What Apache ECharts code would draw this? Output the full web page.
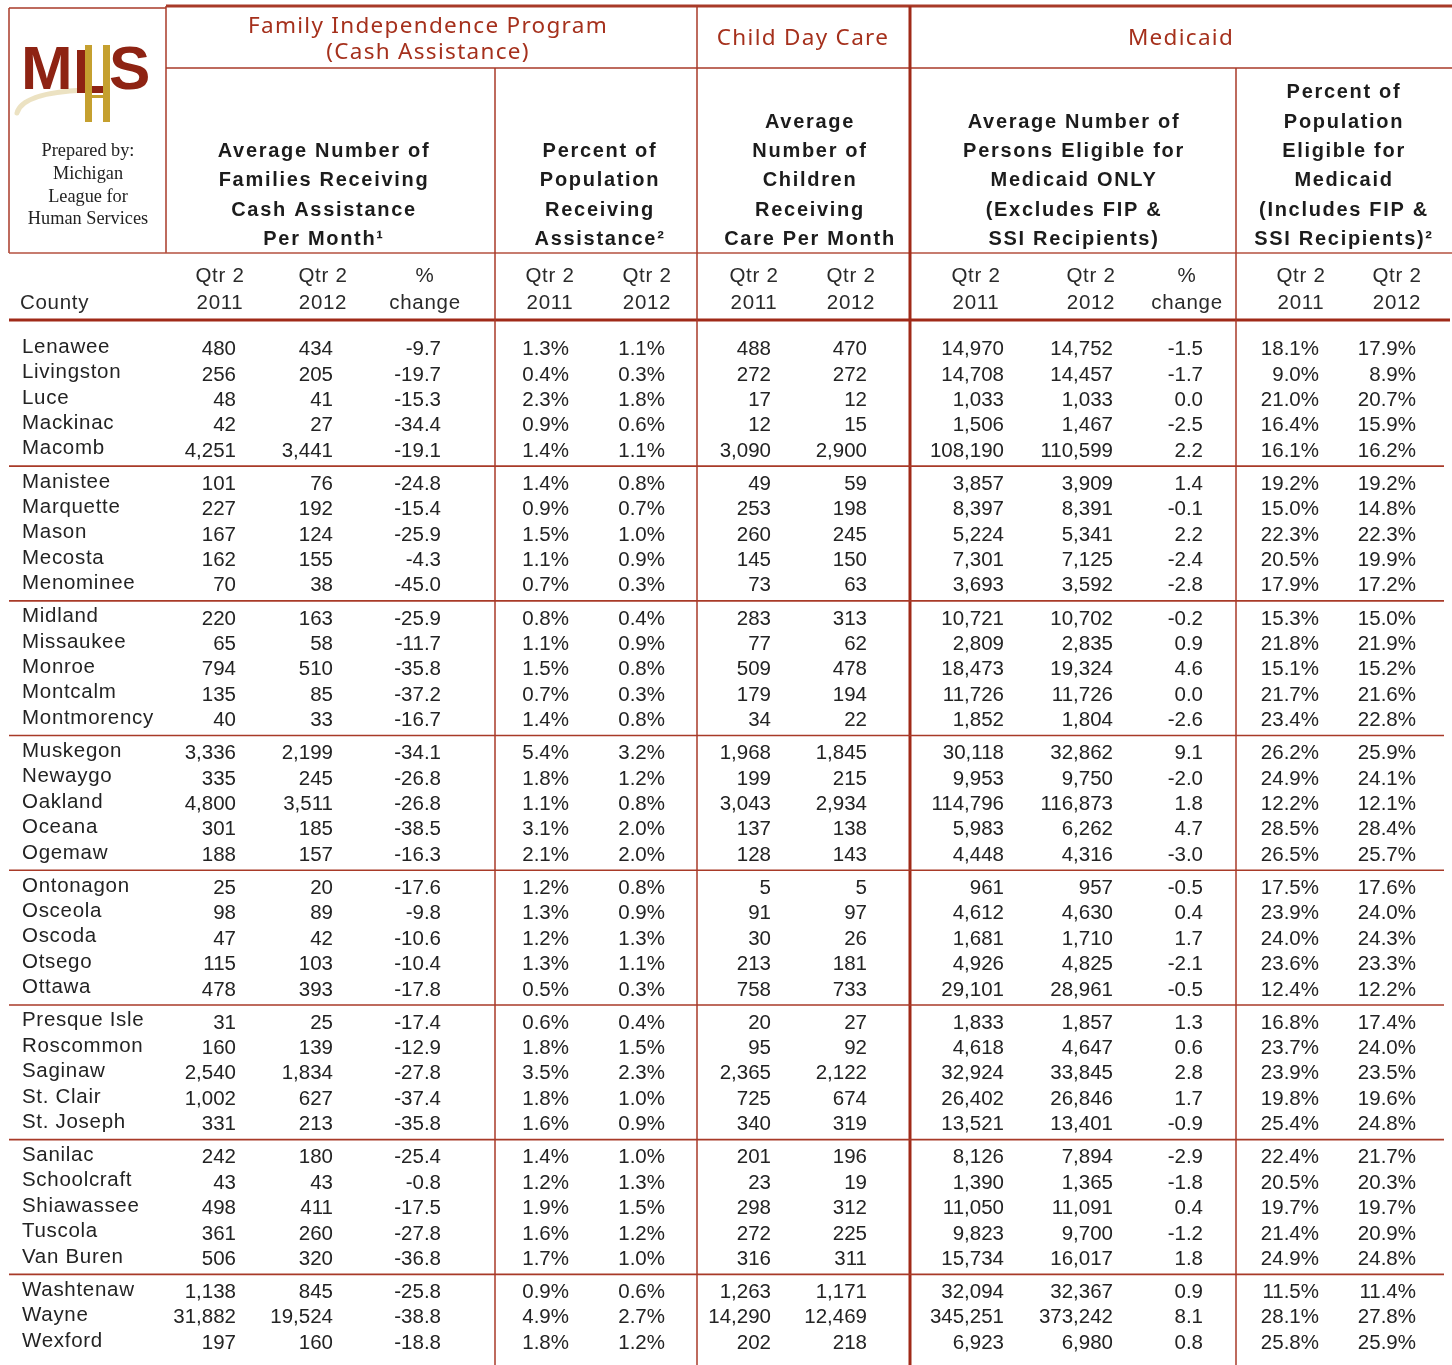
<!DOCTYPE html>
<html><head><meta charset="utf-8">
<script src="https://cdn.jsdelivr.net/npm/echarts@6/dist/echarts.min.js"></script>
<style>html,body{margin:0;padding:0;background:#fff}#c{width:1452px;height:1365px}</style>
</head><body><div id="c"></div>
<script>
// ---- letter-spacing support for canvas text (font family marker TrkNN = NN/10 px) ----
(function(){
  var P = CanvasRenderingContext2D.prototype, re = /Trk(\d+)/;
  function ap(ctx){ var m = re.exec(ctx.font); var v = m ? (m[1]/10)+'px' : '0px'; try{ if(ctx.letterSpacing !== v) ctx.letterSpacing = v; }catch(e){} }
  var f = P.fillText, mt = P.measureText;
  P.fillText = function(){ ap(this); return f.apply(this, arguments); };
  P.measureText = function(){ ap(this); return mt.apply(this, arguments); };
})();

// ---------------- DATA ----------------
const counties = ['Lenawee','Livingston','Luce','Mackinac','Macomb',
 'Manistee','Marquette','Mason','Mecosta','Menominee',
 'Midland','Missaukee','Monroe','Montcalm','Montmorency',
 'Muskegon','Newaygo','Oakland','Oceana','Ogemaw',
 'Ontonagon','Osceola','Oscoda','Otsego','Ottawa',
 'Presque Isle','Roscommon','Saginaw','St. Clair','St. Joseph',
 'Sanilac','Schoolcraft','Shiawassee','Tuscola','Van Buren',
 'Washtenaw','Wayne','Wexford'];
const famQ2_2011 = [480,256,48,42,4251, 101,227,167,162,70, 220,65,794,135,40, 3336,335,4800,301,188, 25,98,47,115,478, 31,160,2540,1002,331, 242,43,498,361,506, 1138,31882,197];
const famQ2_2012 = [434,205,41,27,3441, 76,192,124,155,38, 163,58,510,85,33, 2199,245,3511,185,157, 20,89,42,103,393, 25,139,1834,627,213, 180,43,411,260,320, 845,19524,160];
const famChange = [-9.7,-19.7,-15.3,-34.4,-19.1, -24.8,-15.4,-25.9,-4.3,-45.0, -25.9,-11.7,-35.8,-37.2,-16.7, -34.1,-26.8,-26.8,-38.5,-16.3, -17.6,-9.8,-10.6,-10.4,-17.8, -17.4,-12.9,-27.8,-37.4,-35.8, -25.4,-0.8,-17.5,-27.8,-36.8, -25.8,-38.8,-18.8];
const fipPct2011 = [1.3,0.4,2.3,0.9,1.4, 1.4,0.9,1.5,1.1,0.7, 0.8,1.1,1.5,0.7,1.4, 5.4,1.8,1.1,3.1,2.1, 1.2,1.3,1.2,1.3,0.5, 0.6,1.8,3.5,1.8,1.6, 1.4,1.2,1.9,1.6,1.7, 0.9,4.9,1.8];
const fipPct2012 = [1.1,0.3,1.8,0.6,1.1, 0.8,0.7,1.0,0.9,0.3, 0.4,0.9,0.8,0.3,0.8, 3.2,1.2,0.8,2.0,2.0, 0.8,0.9,1.3,1.1,0.3, 0.4,1.5,2.3,1.0,0.9, 1.0,1.3,1.5,1.2,1.0, 0.6,2.7,1.2];
const care2011 = [488,272,17,12,3090, 49,253,260,145,73, 283,77,509,179,34, 1968,199,3043,137,128, 5,91,30,213,758, 20,95,2365,725,340, 201,23,298,272,316, 1263,14290,202];
const care2012 = [470,272,12,15,2900, 59,198,245,150,63, 313,62,478,194,22, 1845,215,2934,138,143, 5,97,26,181,733, 27,92,2122,674,319, 196,19,312,225,311, 1171,12469,218];
const medOnly2011 = [14970,14708,1033,1506,108190, 3857,8397,5224,7301,3693, 10721,2809,18473,11726,1852, 30118,9953,114796,5983,4448, 961,4612,1681,4926,29101, 1833,4618,32924,26402,13521, 8126,1390,11050,9823,15734, 32094,345251,6923];
const medOnly2012 = [14752,14457,1033,1467,110599, 3909,8391,5341,7125,3592, 10702,2835,19324,11726,1804, 32862,9750,116873,6262,4316, 957,4630,1710,4825,28961, 1857,4647,33845,26846,13401, 7894,1365,11091,9700,16017, 32367,373242,6980];
const medChange = [-1.5,-1.7,0.0,-2.5,2.2, 1.4,-0.1,2.2,-2.4,-2.8, -0.2,0.9,4.6,0.0,-2.6, 9.1,-2.0,1.8,4.7,-3.0, -0.5,0.4,1.7,-2.1,-0.5, 1.3,0.6,2.8,1.7,-0.9, -2.9,-1.8,0.4,-1.2,1.8, 0.9,8.1,0.8];
const medPct2011 = [18.1,9.0,21.0,16.4,16.1, 19.2,15.0,22.3,20.5,17.9, 15.3,21.8,15.1,21.7,23.4, 26.2,24.9,12.2,28.5,26.5, 17.5,23.9,24.0,23.6,12.4, 16.8,23.7,23.9,19.8,25.4, 22.4,20.5,19.7,21.4,24.9, 11.5,28.1,25.8];
const medPct2012 = [17.9,8.9,20.7,15.9,16.2, 19.2,14.8,22.3,19.9,17.2, 15.0,21.9,15.2,21.6,22.8, 25.9,24.1,12.1,28.4,25.7, 17.6,24.0,24.3,23.3,12.2, 17.4,24.0,23.5,19.6,24.8, 21.7,20.3,19.7,20.9,24.8, 11.4,27.8,25.9];

const programTitles = ['Family Independence Program\n(Cash Assistance)', 'Child Day Care', 'Medicaid'];
const measureTitles = [
  'Average Number of\nFamilies Receiving\nCash Assistance\nPer Month\u00b9',
  'Percent of\nPopulation\nReceiving\nAssistance\u00b2',
  'Average\nNumber of\nChildren\nReceiving\nCare Per Month',
  'Average Number of\nPersons Eligible for\nMedicaid ONLY\n(Excludes FIP &\nSSI Recipients)',
  'Percent of\nPopulation\nEligible for\nMedicaid\n(Includes FIP &\nSSI Recipients)\u00b2'
];
const periodLabels = ['Qtr 2\n2011','Qtr 2\n2012','%\nchange','Qtr 2\n2011','Qtr 2\n2012','Qtr 2\n2011','Qtr 2\n2012','Qtr 2\n2011','Qtr 2\n2012','%\nchange','Qtr 2\n2011','Qtr 2\n2012'];
const countyLabel = 'County';
const preparedBy = 'Prepared by:\nMichigan\nLeague for\nHuman Services';

// ---------------- LAYOUT / STYLE ----------------
const W = 1452, H = 1365;
const RED = '#a5301c', LINE = '#a83a28', TXT = '#232323';
const SANS = "'Liberation Sans', Arial, Helvetica, sans-serif";
const SANS_T = "Trk7, 'Liberation Sans', Arial, sans-serif";
const BOLD_T = "Trk17, 'Liberation Sans', Arial, sans-serif";
const RED_FONT = "Trk13, 'Noto Sans', 'Open Sans', sans-serif";
const fmtInt = v => v.toLocaleString('en-US');
const fmtPct = v => v.toFixed(1) + '%';
const fmtChg = v => v.toFixed(1);
const columns = [
  {x:236, data:famQ2_2011, fmt:fmtInt, head:220},
  {x:333, data:famQ2_2012, fmt:fmtInt, head:323},
  {x:441, data:famChange, fmt:fmtChg, head:425},
  {x:569, data:fipPct2011, fmt:fmtPct, head:550},
  {x:665, data:fipPct2012, fmt:fmtPct, head:647},
  {x:771, data:care2011, fmt:fmtInt, head:754},
  {x:867, data:care2012, fmt:fmtInt, head:851},
  {x:1004, data:medOnly2011, fmt:fmtInt, head:976},
  {x:1113, data:medOnly2012, fmt:fmtInt, head:1091},
  {x:1203, data:medChange, fmt:fmtChg, head:1187},
  {x:1319, data:medPct2011, fmt:fmtPct, head:1301},
  {x:1416, data:medPct2012, fmt:fmtPct, head:1397}
];
const NAME_X = 22;
const ROW_PITCH = 25.4, GROUP_GAP = 7.7 / 25.4, GROUP = 5;
const rowPos = i => i + 0.5 + Math.floor(i / GROUP) * GROUP_GAP;
const nGroups = Math.ceil(counties.length / GROUP);
const yMax = counties.length + (nGroups - 1) * GROUP_GAP;
const FIRST_ROW_Y = 349.5;
const gridTop = FIRST_ROW_Y - 0.5 * ROW_PITCH;
const gridBottom = H - (gridTop + yMax * ROW_PITCH);

// ---------------- GRAPHICS (frame + headers) ----------------
const g = [];
function line(x1,y1,x2,y2,w,c){ g.push({type:'line', silent:true, shape:{x1,y1,x2,y2}, style:{stroke:c||LINE, lineWidth:w||1.5}}); }
function text(t,x,y,o){ g.push({type:'text', silent:true, x, y, style:Object.assign({text:t, fill:TXT, fontSize:20.5, fontFamily:SANS, align:'center', verticalAlign:'middle'}, o||{})}); }
function rect(x,y,w,h,c){ g.push({type:'rect', silent:true, shape:{x,y,width:w,height:h}, style:{fill:c}}); }

// frame lines
line(166,6,W,6,3);
line(9,8,166,8,1.5);
line(9,8,9,253,1.5);
line(166,6,166,253,1.5);
line(166,68,W,68,1.5);
line(9,253,W,253,1.5,'#b4503f');
line(9,320,1450,320,3,'#a02a18');
line(495,68,495,H,1.5);
line(697,6,697,H,1.5);
line(910,6,910,H,3,'#a02a18');
line(1236,68,1236,H,1.5);

// program titles
text(programTitles[0], 428, 39.5, {fill:RED, fontSize:22.5, fontFamily:RED_FONT, lineHeight:26});
text(programTitles[1], 803, 38.5, {fill:RED, fontSize:22.5, fontFamily:RED_FONT});
text(programTitles[2], 1181, 38.5, {fill:RED, fontSize:22.5, fontFamily:RED_FONT});

// measure titles
const titleX = [324, 600, 810, 1074, 1344];
const LH = 29.3;
measureTitles.forEach((t,k) => {
  const n = t.split('\n').length;
  text(t, titleX[k], 239.3 - (n-1)*LH/2, {fontWeight:'bold', fontSize:20, fontFamily:BOLD_T, lineHeight:LH, fill:'#1c1c1c'});
});

// period labels
periodLabels.forEach((t,k) => text(t, columns[k].head, 289.5, {fontFamily:SANS_T, lineHeight:27, fill:'#2a2a2a'}));
text(countyLabel, 20, 303, {align:'left', fontFamily:SANS_T, fill:'#2a2a2a'});

// logo
g.push({type:'bezierCurve', silent:true, shape:{x1:17, y1:113, cpx1:22, cpy1:93, x2:84, y2:90}, style:{stroke:'#eadfbb', lineWidth:5, opacity:0.9, lineCap:'round'}});
text('M', 21, 72, {align:'left', fontSize:62, fontWeight:'bold', fontFamily:SANS, fill:'#8e2313'});
rect(77, 50, 8, 43, '#8e2313');
rect(77, 86, 33, 7, '#8e2313');
rect(85, 45, 7, 77, '#c5a02f');
rect(103, 45, 7, 77, '#c5a02f');
rect(92, 95, 11, 3, '#c5a02f');
text('S', 109, 72, {align:'left', fontSize:62, fontWeight:'bold', fontFamily:SANS, fill:'#8e2313'});
text(preparedBy, 88, 185.5, {fontSize:18.3, fontFamily:"'Liberation Serif', 'DejaVu Serif', serif", lineHeight:22.7, fill:'#222'});

// ---------------- CHART ----------------
const chart = echarts.init(document.getElementById('c'), null, {renderer:'canvas'});
chart.setOption({
  animation:false,
  backgroundColor:'#fff',
  grid:{left:0, right:0, top:gridTop, bottom:gridBottom, containLabel:false},
  xAxis:{type:'value', min:0, max:W, show:false},
  yAxis:{type:'value', min:0, max:yMax, inverse:true, show:false},
  graphic:g,
  series:[{
    type:'custom',
    data: counties.map((c,i) => [0, rowPos(i), i]),
    encode:{x:0, y:1},
    renderItem: function(params, api){
      const i = api.value(2);
      const yc = api.coord([0, api.value(1)])[1];
      const ch = [];
      ch.push({type:'text', x: api.coord([NAME_X,0])[0], y: yc - 2.3,
        style:{text: counties[i], fill:TXT, fontSize:20.5, fontFamily:SANS_T, align:'left', verticalAlign:'middle'}});
      columns.forEach(col => {
        ch.push({type:'text', x: api.coord([col.x,0])[0], y: yc,
          style:{text: col.fmt(col.data[i]), fill:TXT, fontSize:20.5, fontFamily:SANS, align:'right', verticalAlign:'middle'}});
      });
      if (i % GROUP === GROUP-1 && i < counties.length-1) {
        const yn = api.coord([0, rowPos(i+1)])[1];
        const yl = (yc + yn)/2 - 1.5;
        ch.push({type:'line', shape:{x1: api.coord([9,0])[0], y1: yl, x2: api.coord([1444,0])[0], y2: yl}, style:{stroke:LINE, lineWidth:1.6}});
      }
      return {type:'group', children: ch};
    }
  }]
});
</script></body></html>
